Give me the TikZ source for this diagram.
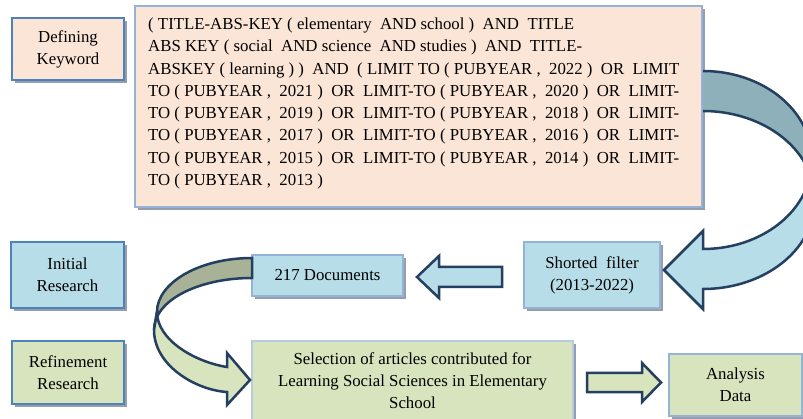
\documentclass[tikz,border=0pt]{standalone}
\usepackage{fontspec}
\setmainfont{Liberation Serif}
\usetikzlibrary{shadows}
\definecolor{peach}{HTML}{FBE5D6}
\definecolor{lblue}{HTML}{B7DDE8}
\definecolor{lgreen}{HTML}{D7E4BD}
\definecolor{midborder}{HTML}{4F81BD}
\definecolor{lightborder}{HTML}{95B3D7}
\definecolor{shadowc}{HTML}{969EAC}
\definecolor{navy}{HTML}{243F60}
\definecolor{tealdark}{HTML}{8EB0BA}
\definecolor{olivedark}{HTML}{A8B296}
\newcommand\boxfont{\fontsize{16.8}{22}\selectfont}
\tikzset{
  box/.style={draw, line width=1.2pt, inner sep=0pt, align=center, font=\boxfont,
    drop shadow={shadow xshift=2.5pt, shadow yshift=-3pt, fill=shadowc, opacity=1}},
  peachbox/.style={box, fill=peach},
  bluebox/.style={box, fill=lblue},
  greenbox/.style={box, fill=lgreen},
  qline/.style={anchor=base west, inner sep=0pt, font=\boxfont},
  blockarrow/.style={draw=navy, line width=2.5pt, line join=miter},
}
\begin{document}
\begin{tikzpicture}[x=1pt, y=-1pt]
\useasboundingbox (0,0) rectangle (803,419);
\clip (0,0) rectangle (803,419);
\fill[white] (0,0) rectangle (803,419);

% boxes
\node[peachbox, draw=midborder, minimum width=112pt, minimum height=62pt] (defk) at (68,49) {Defining\\Keyword};
\node[peachbox, draw=lightborder, minimum width=567pt, minimum height=201pt] (query) at (418.5,106.5) {};
\node[bluebox, draw=midborder, minimum width=113pt, minimum height=66pt] (init) at (67.5,275) {Initial\\Research};
\node[bluebox, draw=lightborder, minimum width=151pt, minimum height=41pt] (docs) at (327.5,275.5) {217 Documents};
\node[bluebox, draw=lightborder, minimum width=136pt, minimum height=66pt] (filt) at (592,275) {Shorted~ filter\\(2013-2022)};
\node[greenbox, draw=midborder, minimum width=112pt, minimum height=63pt] (refi) at (68,372.5) {Refinement\\Research};
\node[greenbox, draw=lightborder!70, minimum width=321pt, minimum height=80pt] (sel) at (412.5,381) {Selection of articles contributed for\\Learning Social Sciences in Elementary\\School};
\node[greenbox, draw=lightborder, minimum width=133pt, minimum height=62pt] (anal) at (735.5,385) {Analysis\\Data};

% query text
\node[qline] (q1) at (148,29.5) {( TITLE-ABS-KEY ( elementary~ AND school )~ AND~ TITLE};
\node[qline] (q2) at (148,51.8) {ABS KEY ( social~ AND science~ AND studies )~ AND~ TITLE-};
\node[qline] (q3) at (148,74.1) {ABSKEY ( learning ) )~ AND~ ( LIMIT TO ( PUBYEAR ,~ 2022 )~ OR~ LIMIT};
\node[qline] (q4) at (148,96.4) {TO ( PUBYEAR ,~ 2021 )~ OR~ LIMIT-TO ( PUBYEAR ,~ 2020 )~ OR~ LIMIT-};
\node[qline] (q5) at (148,118.7) {TO ( PUBYEAR ,~ 2019 )~ OR~ LIMIT-TO ( PUBYEAR ,~ 2018 )~ OR~ LIMIT-};
\node[qline] (q6) at (148,141.0) {TO ( PUBYEAR ,~ 2017 )~ OR~ LIMIT-TO ( PUBYEAR ,~ 2016 )~ OR~ LIMIT-};
\node[qline] (q7) at (148,163.3) {TO ( PUBYEAR ,~ 2015 )~ OR~ LIMIT-TO ( PUBYEAR ,~ 2014 )~ OR~ LIMIT-};
\node[qline] (q8) at (148,185.6) {TO ( PUBYEAR ,~ 2013 )};

% big curved arrow: query -> filter
\fill[tealdark] plot[domain=90:0, samples=40] ({703+109*cos(\x)},{160-89*sin(\x)})
  -- plot[domain=0:90, samples=40] ({703+112*cos(\x)},{200-89*sin(\x)}) -- cycle;
\draw[navy, line width=2.5pt] plot[domain=90:0, samples=40] ({703+109*cos(\x)},{160-89*sin(\x)});
\draw[navy, line width=2.5pt] plot[domain=90:0, samples=40] ({703+112*cos(\x)},{200-89*sin(\x)});
\filldraw[blockarrow, fill=lblue]
  plot[domain=0:-90, samples=40] ({703+109*cos(\x)},{160-89*sin(\x)})
  -- (703,231) -- (664,270) -- (703,309)
  -- plot[domain=-90:0, samples=40] ({703+112*cos(\x)},{200-89*sin(\x)}) -- cycle;

% left straight arrow: filter -> docs
\filldraw[blockarrow, fill=lblue] (417,277) -- (439,256) -- (439,267) -- (502,267)
  -- (502,287) -- (439,287) -- (439,298) -- cycle;

% left curved arrow: docs -> selection
\filldraw[blockarrow, fill=olivedark] (252,258) .. controls (199,258) and (157,283) .. (157,312)
  -- (154,330) .. controls (154,300) and (199,278) .. (252,278) -- cycle;
\filldraw[blockarrow, fill=lgreen] (157,312) .. controls (157,340) and (195,362) .. (227,367)
  -- (227,353) -- (250,380) -- (227,405) -- (227,392)
  .. controls (195,390) and (154,365) .. (154,330) -- cycle;

% right straight arrow: selection -> analysis
\filldraw[blockarrow, fill=lgreen] (587,373) -- (642,373) -- (642,363) -- (661,382.5)
  -- (642,402) -- (642,392) -- (587,392) -- cycle;
\end{tikzpicture}
\end{document}
